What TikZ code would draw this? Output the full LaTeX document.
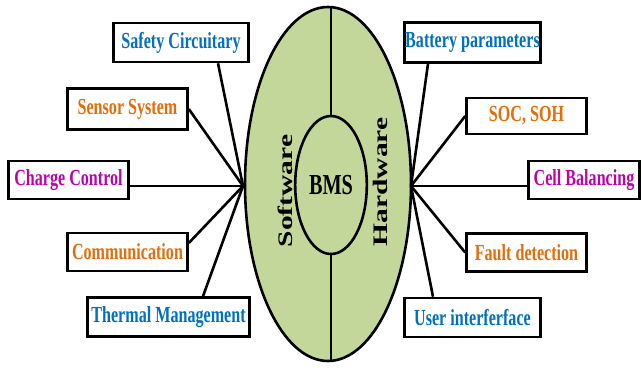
\documentclass[tikz,border=0pt]{standalone}
\usepackage{fontspec}
\setmainfont{Liberation Serif}
\usetikzlibrary{shapes.geometric}
\definecolor{tblue}{RGB}{0,112,192}
\definecolor{torange}{RGB}{228,108,10}
\definecolor{tmagenta}{RGB}{192,0,170}
\definecolor{tgreen}{RGB}{196,215,155}
\begin{document}
\begin{tikzpicture}[x=1pt,y=-1pt,
  box/.style={draw, rectangle, fill=white, line width=2.6pt, inner sep=0pt,
              font=\fontsize{23}{23}\selectfont\bfseries},
  link/.style={line width=2.6pt},
  side/.style={rotate=90, font=\fontsize{29.5}{29.5}\selectfont\bfseries},
]
\fill[white] (0,0) rectangle (642,367);
\useasboundingbox (0,0) rectangle (642,367);

% central BMS ellipse
\node[ellipse, draw, line width=2.6pt, fill=tgreen, minimum width=166pt, minimum height=354pt] (outer) at (328,184) {};
\node[ellipse, draw, line width=2.6pt, minimum width=61pt, minimum height=138pt,
      font=\fontsize{29}{29}\selectfont\bfseries] (bms) at (331,185) {\scalebox{0.7}[1]{BMS}};
\draw[link] (bms.north) -- (bms.north |- outer.north);
\draw[link] (bms.south) -- (bms.south |- outer.south);
\node[side] (sw) at (285,191) {\scalebox{1}[0.7]{Software}};
\node[side] (hw) at (380,182) {\scalebox{1}[0.7]{Hardware}};

% hubs on the ellipse rim
\coordinate (lhub) at (243,186);
\coordinate (rhub) at (411,186);

% software side boxes
\node[box, text=tblue,    minimum width=135pt, minimum height=39pt] (safety)  at (181,42.5)  {\scalebox{0.7}[1]{Safety Circuitary}};
\node[box, text=torange,  minimum width=120pt, minimum height=41pt] (sensor)  at (127.5,109) {\scalebox{0.7}[1]{Sensor System}};
\node[box, text=tmagenta, minimum width=120pt, minimum height=38pt] (charge)  at (68.5,180)  {\scalebox{0.7}[1]{Charge Control}};
\node[box, text=torange,  minimum width=120pt, minimum height=38pt] (comm)    at (127.5,252) {\scalebox{0.7}[1]{Communication}};
\node[box, text=tblue,    minimum width=162pt, minimum height=39pt] (thermal) at (168.5,317) {\scalebox{0.7}[1]{Thermal Management}};

% hardware side boxes
\node[box, text=tblue,    minimum width=136pt, minimum height=40pt] (battery) at (472.5,42.5) {\scalebox{0.7}[1]{Battery parameters}};
\node[box, text=torange,  minimum width=120pt, minimum height=36pt] (soc)     at (526.5,116)  {\scalebox{0.7}[1]{SOC, SOH}};
\node[box, text=tmagenta, minimum width=111pt, minimum height=38pt] (cell)    at (584,180)    {\scalebox{0.7}[1]{Cell Balancing}};
\node[box, text=torange,  minimum width=120pt, minimum height=38pt] (fault)   at (526.5,252.5){\scalebox{0.7}[1]{Fault detection}};
\node[box, text=tblue,    minimum width=136pt, minimum height=39pt] (user)    at (472.5,317.5){\scalebox{0.7}[1]{User interferface}};

% connectors
\draw[link] (lhub) -- ([xshift=37pt]safety.south);
\draw[link] (lhub) -- (sensor.east);
\draw[link] (lhub) -- (lhub -| charge.east);
\draw[link] (lhub) -- ([yshift=9pt]comm.east);
\draw[link] (lhub) -- ([xshift=34.5pt]thermal.north);
\draw[link] (rhub) -- ([xshift=-44.5pt]battery.south);
\draw[link] (rhub) -- (soc.west);
\draw[link] (rhub) -- (rhub -| cell.west);
\draw[link] (rhub) -- (fault.west);
\draw[link] (rhub) -- ([xshift=-39.5pt]user.north);
\end{tikzpicture}
\end{document}
